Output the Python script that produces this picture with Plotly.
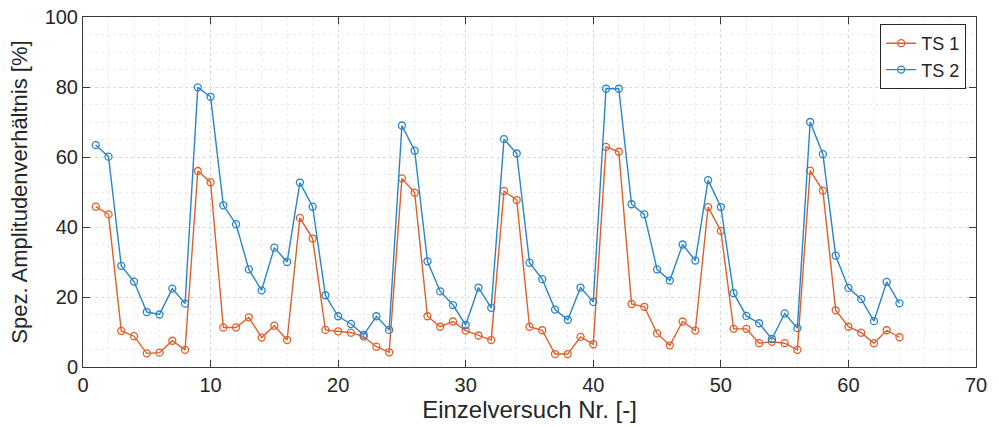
import plotly.graph_objects as go

versuch = list(range(1, 65))
ts1 = [45.8, 43.6, 10.3, 8.8, 3.9, 4.1, 7.5, 4.9, 56.0, 52.8,
       11.3, 11.3, 14.2, 8.4, 11.8, 7.7, 42.6, 36.7, 10.6, 10.2,
       9.8, 8.7, 5.8, 4.2, 53.9, 49.8, 14.5, 11.5, 13.0, 10.4,
       9.0, 7.7, 50.3, 47.7, 11.5, 10.5, 3.7, 3.7, 8.6, 6.5,
       62.9, 61.5, 18.0, 17.2, 9.6, 6.2, 13.0, 10.4, 45.7, 38.9,
       10.9, 10.9, 6.8, 7.2, 6.8, 4.9, 56.1, 50.4, 16.2, 11.5,
       9.8, 6.8, 10.5, 8.5]
ts2 = [63.4, 60.1, 28.9, 24.4, 15.7, 15.0, 22.4, 18.1, 79.9, 77.2,
       46.2, 40.8, 27.9, 21.9, 34.1, 30.0, 52.7, 45.8, 20.5, 14.5,
       12.3, 9.2, 14.5, 10.6, 69.0, 61.8, 30.2, 21.6, 17.7, 12.0,
       22.7, 16.9, 65.1, 61.0, 29.8, 25.1, 16.4, 13.5, 22.7, 18.6,
       79.5, 79.5, 46.5, 43.6, 27.9, 24.7, 35.0, 30.4, 53.4, 45.7,
       21.1, 14.6, 12.5, 8.0, 15.3, 11.1, 70.0, 60.8, 31.8, 22.6,
       19.4, 13.1, 24.3, 18.2]

x_ticks = [0, 10, 20, 30, 40, 50, 60, 70]
y_ticks = [0, 20, 40, 60, 80, 100]

orange = "#DF5F2A"
blue = "#2A84C8"
FONT = "Liberation Sans, Arial, sans-serif"

fig = go.Figure()
fig.add_trace(go.Scatter(
    x=versuch, y=ts1, name="TS 1", mode="lines+markers",
    line=dict(color=orange, width=1.4),
    marker=dict(symbol="circle-open", size=7, color=orange, line=dict(width=1.3)),
))
fig.add_trace(go.Scatter(
    x=versuch, y=ts2, name="TS 2", mode="lines+markers",
    line=dict(color=blue, width=1.4),
    marker=dict(symbol="circle-open", size=7, color=blue, line=dict(width=1.3)),
))

axis_common = dict(
    showline=True, linecolor="#3a3a3a", linewidth=1, mirror="ticks",
    ticks="inside", ticklen=7, tickcolor="#3a3a3a",
    showgrid=True, gridcolor="#d9d9d9", griddash="dot", gridwidth=1,
    zeroline=False,
    tickfont=dict(family=FONT, size=20, color="#262626"),
)

fig.update_xaxes(
    range=[0, 70], tickvals=x_ticks, ticktext=[str(v) for v in x_ticks],
    title=dict(text="Einzelversuch Nr. [-]", standoff=6,
               font=dict(family=FONT, size=24, color="#262626")),
    minor=dict(dtick=2, tick0=0, showgrid=True, gridcolor="#ececec", griddash="dot", ticks=""),
    **axis_common,
)
fig.update_yaxes(
    range=[0, 100], tickvals=y_ticks, ticktext=[str(v) for v in y_ticks],
    title=dict(text="Spez. Amplitudenverhältnis [%]", standoff=10,
               font=dict(family=FONT, size=22, color="#262626")),
    minor=dict(dtick=5, tick0=0, showgrid=True, gridcolor="#ececec", griddash="dot", ticks=""),
    **axis_common,
)

fig.update_layout(
    width=999, height=427,
    margin=dict(l=83, r=23, t=17, b=60, autoexpand=False),
    paper_bgcolor="white", plot_bgcolor="white",
    font=dict(family=FONT, color="#262626"),
    legend=dict(
        x=0.989, y=0.98, xanchor="right", yanchor="top",
        bgcolor="white", bordercolor="#262626", borderwidth=1,
        font=dict(size=18, color="#262626"),
        tracegroupgap=0, itemwidth=30,
    ),
    showlegend=True,
)

fig.write_html("out.html", config={"displayModeBar": False},
               post_script="document.body.style.margin='0';")
